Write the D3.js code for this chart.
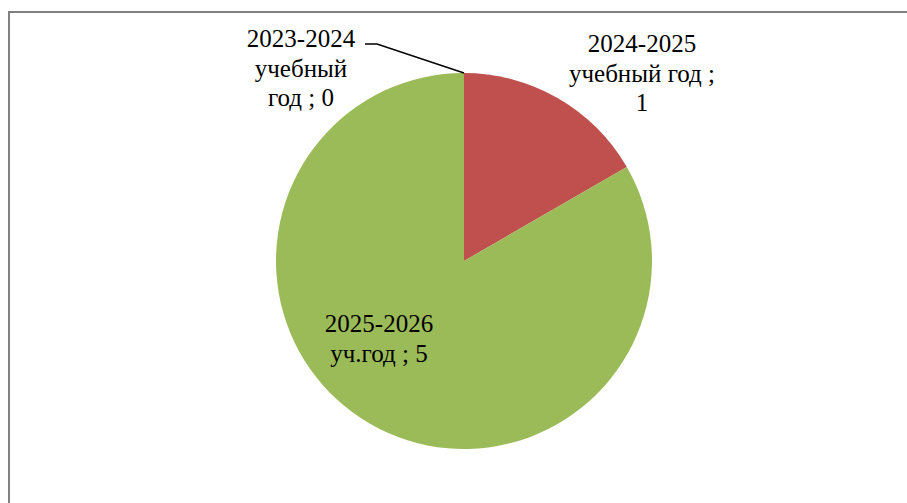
<!DOCTYPE html>
<meta charset="utf-8">
<style>
body { margin: 0; background: #fff; }
.lbl { font-family: "Times New Roman", Times, "Liberation Serif", Tinos, "DejaVu Serif", "Noto Serif", FreeSerif, serif; font-size: 25px; fill: #000; }
</style>
<script src="https://d3js.org/d3.v7.min.js"></script>
<body>
<div id="chart"></div>
<script>
// data
var years = ["2023-2024", "2024-2025", "2025-2026"];
var labelLines = [
  ["2023-2024", "учебный", "год ; 0"],
  ["2024-2025", "учебный год ;", "1"],
  ["2025-2026", "уч.год ; 5"]
];
var values = [0, 1, 5];
var colors = ["#4F81BD", "#C0504D", "#9BBB59"];

var width = 907, height = 503;
var cx = 464, cy = 261, radius = 188;

var svg = d3.select("#chart")
  .append("svg")
    .attr("width", width)
    .attr("height", height);

// chart area border (runs off the right and bottom of the picture)
svg.append("rect")
  .attr("x", 9)
  .attr("y", 12)
  .attr("width", 920)
  .attr("height", 520)
  .attr("fill", "none")
  .attr("stroke", "#808080")
  .attr("stroke-width", 2);

var pie = d3.pie().sort(null).value(function(d) { return d; });
var arc = d3.arc().innerRadius(0).outerRadius(radius);
var arcs = pie(values);

var g = svg.append("g")
  .attr("transform", "translate(" + cx + "," + cy + ")");

g.selectAll("path")
  .data(arcs)
  .enter()
  .append("path")
    .attr("d", arc)
    .attr("fill", function(d, i) { return colors[i]; });

// label spots (centre x, first baseline)
var labelPos = [[301, 47], [642, 52], [379, 332]];
var lineGap = 29.5;

labelLines.forEach(function(lines, i) {
  var t = svg.append("text")
    .attr("class", "lbl")
    .attr("text-anchor", "middle");
  lines.forEach(function(s, j) {
    t.append("tspan")
      .attr("x", labelPos[i][0])
      .attr("y", labelPos[i][1] + j * lineGap)
      .text(s);
  });
});

// leader line for the zero slice
var start = [cx + radius * Math.sin(arcs[0].startAngle), cy - radius * Math.cos(arcs[0].startAngle)];
svg.append("path")
  .attr("d", d3.line()([[365, 44], [377, 44], start]))
  .attr("fill", "none")
  .attr("stroke", "#000")
  .attr("stroke-width", 1.5);
</script>
</body>
